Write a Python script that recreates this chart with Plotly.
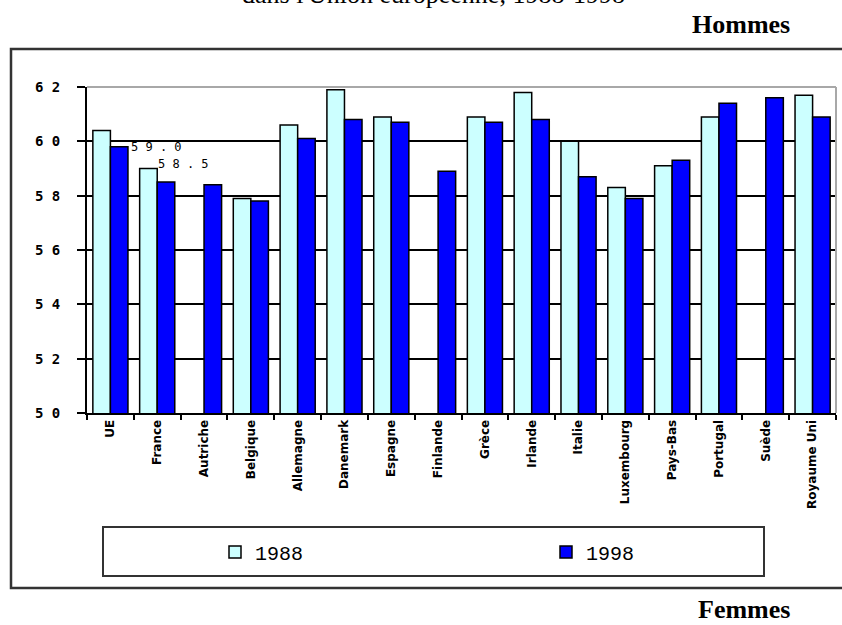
import plotly.graph_objects as go

categories = ["UE", "France", "Autriche", "Belgique", "Allemagne", "Danemark", "Espagne",
              "Finlande", "Grèce", "Irlande", "Italie", "Luxembourg", "Pays-Bas",
              "Portugal", "Suède", "Royaume Uni"]
v1988 = [60.4, 59.0, None, 57.9, 60.6, 61.9, 60.9, None, 60.9, 61.8, 60.0, 58.3, 59.1, 60.9, None, 61.7]
v1998 = [59.8, 58.5, 58.4, 57.8, 60.1, 60.8, 60.7, 58.9, 60.7, 60.8, 58.7, 57.9, 59.3, 61.4, 61.6, 60.9]
tick_vals = [50, 52, 54, 56, 58, 60, 62]
tick_text = ["5 0", "5 2", "5 4", "5 6", "5 8", "6 0", "6 2"]
series_names = ["1988", "1998"]

W_FIG, H_FIG = 842, 625
PL, PR, PT, PB = 87, 836, 87, 413
PW, PH = PR - PL, PB - PT


def px(x):
    return (x - PL) / PW


def py(y):
    return (PB - y) / PH


def spaced(v):
    return " ".join(f"{v:.1f}")


fig = go.Figure()
fig.add_trace(go.Bar(x=categories, y=v1988, name=series_names[0], legend="legend",
                     marker=dict(color="#CCFFFF", line=dict(color="black", width=1.5))))
fig.add_trace(go.Bar(x=categories, y=v1998, name=series_names[1], legend="legend2",
                     marker=dict(color="#0000FF", line=dict(color="black", width=1.5))))

shapes = [
    # outer frame
    dict(type="rect", xref="paper", yref="paper", x0=px(11), y0=py(49), x1=px(860), y1=py(588),
         line=dict(color="#333333", width=2.5)),
    # gray top and right border of plot area
    dict(type="line", xref="paper", yref="paper", x0=0, y0=1, x1=1, y1=1,
         line=dict(color="#A8A8A8", width=2), layer="above"),
    dict(type="line", xref="paper", yref="paper", x0=1, y0=0, x1=1, y1=1,
         line=dict(color="#A8A8A8", width=2), layer="above"),
    # legend box
    dict(type="rect", xref="paper", yref="paper", x0=px(103), y0=py(527), x1=px(764), y1=py(576),
         line=dict(color="#333333", width=2)),
]

annotations = [
    dict(text="dans l'Union européenne, 1988-1998", xref="paper", yref="paper",
         x=px(433), y=py(11), xanchor="center", yanchor="bottom", showarrow=False,
         font=dict(family="Liberation Serif", size=26, color="black")),
    dict(text="<b>Hommes</b>", xref="paper", yref="paper",
         x=px(741), y=py(25), xanchor="center", yanchor="middle", showarrow=False,
         font=dict(family="Liberation Serif", size=26, color="black")),
    dict(text="<b>Femmes</b>", xref="paper", yref="paper",
         x=px(744), y=py(625), xanchor="center", yanchor="bottom", showarrow=False,
         borderpad=0,
         font=dict(family="Liberation Serif", size=26, color="black")),
    dict(text=spaced(v1988[1]), xref="x", yref="y", x=categories[1], y=v1988[1],
         xanchor="left", yanchor="bottom", xshift=-28, yshift=13, showarrow=False,
         font=dict(family="DejaVu Sans Mono", size=12, color="black")),
    dict(text=spaced(v1998[1]), xref="x", yref="y", x=categories[1], y=v1998[1],
         xanchor="left", yanchor="bottom", xshift=-1, yshift=9, showarrow=False,
         font=dict(family="DejaVu Sans Mono", size=12, color="black")),
]

legend_common = dict(orientation="h", xanchor="left", yanchor="middle",
                     font=dict(family="Liberation Mono", size=20, color="black"),
                     bgcolor="rgba(0,0,0,0)", borderwidth=0)

fig.update_layout(
    width=W_FIG, height=H_FIG,
    margin=dict(l=PL, r=W_FIG - PR, t=PT, b=H_FIG - PB, pad=0),
    paper_bgcolor="white", plot_bgcolor="white",
    barmode="group", bargap=0.25, bargroupgap=0,
    showlegend=True,
    legend=dict(x=px(215), y=py(552), **legend_common),
    legend2=dict(x=px(546), y=py(552), **legend_common),
    shapes=shapes,
    annotations=annotations,
    xaxis=dict(type="category", tickson="boundaries", ticks="outside", ticklen=5,
               tickwidth=1.5, tickcolor="black", tickangle=-90,
               showline=True, linecolor="black", linewidth=2, showgrid=False,
               tickfont=dict(family="DejaVu Sans", size=12, color="black", weight="bold")),
    yaxis=dict(range=[50, 62], tickvals=tick_vals, ticktext=tick_text,
               ticks="outside", ticklen=8, tickwidth=1.5, tickcolor="black",
               ticklabelstandoff=14,
               showline=True, linecolor="black", linewidth=2,
               showgrid=True, gridcolor="black", gridwidth=1.5, zeroline=False,
               tickfont=dict(family="DejaVu Sans Mono", size=14, color="black", weight="bold")),
)

fig.write_html("out.html", config={"displayModeBar": False},
               post_script="document.body.style.margin='0px';")
